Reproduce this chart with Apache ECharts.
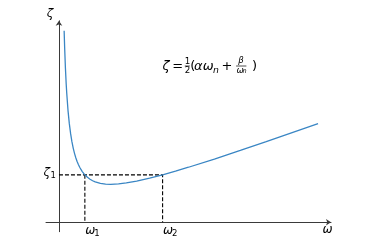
<!DOCTYPE html>
<html><head><meta charset="utf-8">
<script src="https://cdn.jsdelivr.net/npm/echarts@6/dist/echarts.min.js"></script>
<style>html,body{margin:0;padding:0;background:#fff}#c{width:368px;height:250px}</style>
</head><body><div id="c"></div>
<script>
// Curve: (omega, zeta)
const omega = [0.2,0.22,0.25,0.28,0.3,0.35,0.4,0.45,0.5,0.55,0.6,0.65,0.7,0.75,0.8,0.9,1.0,1.1,1.2,1.3,1.4,1.6,1.8,2.0,2.3,2.6,3.0,3.5,4.0,4.5,5,6,7,8,9,10];
const zeta  = [4.04,3.68,3.25,2.913,2.727,2.356,2.08,1.868,1.7,1.565,1.453,1.361,1.283,1.217,1.16,1.069,1.0,0.947,0.907,0.875,0.851,0.82,0.804,0.8,0.808,0.828,0.867,0.929,1.0,1.078,1.16,1.333,1.514,1.7,1.889,2.08];
const omegaMarks = [1, 4];   // omega_1, omega_2
const zetaMark = 1;          // zeta_1
const xRange = [-0.5, 10.5];
const yRange = [-0.2, 4.25];

const chart = echarts.init(document.getElementById('c'), null, {renderer: 'canvas'});
const curve = omega.map((w, i) => [w, zeta[i]]);
const dashA = [[0, zetaMark], [omegaMarks[1], zetaMark], [omegaMarks[1], 0]];
const dashB = [[omegaMarks[0], zetaMark], [omegaMarks[0], 0]];
const axisCommon = {
  axisTick: {show: false}, axisLabel: {show: false}, splitLine: {show: false},
  axisLine: {show: true, onZero: true, symbol: ['none', 'arrow'], symbolSize: [5, 5],
    lineStyle: {color: '#3a3a3a', width: 1}}
};
chart.setOption({
  animation: false,
  backgroundColor: '#fff',
  grid: {left: 46, top: 20.8, width: 285, height: 210.9, containLabel: false},
  xAxis: Object.assign({type: 'value', min: xRange[0], max: xRange[1]}, axisCommon),
  yAxis: Object.assign({type: 'value', min: yRange[0], max: yRange[1]}, axisCommon),
  series: [
    {type: 'line', data: dashA, showSymbol: false, silent: true,
      lineStyle: {color: '#000', width: 1.1, type: [4, 2]}},
    {type: 'line', data: dashB, showSymbol: false, silent: true,
      lineStyle: {color: '#000', width: 1.1, type: [4, 2]}},
    {type: 'line', data: curve, showSymbol: false, smooth: false,
      lineStyle: {color: '#3a86c4', width: 1.3}}
  ]
});

const FF = '"DejaVu Sans"';
function t(text, x, y, size, italic, align) {
  return {type: 'text', x: x, y: y, silent: true,
    style: {text: text, font: (italic ? 'italic ' : '') + size + 'px ' + FF, fill: '#000',
      align: align || 'left', verticalAlign: 'middle'}};
}
function bar(x1, x2, y) {
  return {type: 'line', silent: true, shape: {x1: x1, y1: y, x2: x2, y2: y},
    style: {stroke: '#000', lineWidth: 0.7}};
}
const px = (v) => chart.convertToPixel({gridIndex: 0}, v);
const o1 = px([omegaMarks[0], 0]), o2 = px([omegaMarks[1], 0]), z1 = px([0, zetaMark]);
const yTop = px([0, yRange[1]]), xEnd = px([xRange[1], 0]);

const els = [
  t('ζ', yTop[0] - 9, yTop[1] - 6.5, 12, true, 'center'),
  t('ω', xEnd[0] - 3.5, xEnd[1] + 8, 12, true, 'center'),
  t('ω', o1[0] + 0.5, o1[1] + 9, 12, true),
  t('1', o1[0] + 9.5, o1[1] + 12, 8.5, false),
  t('ω', o2[0] + 0.5, o2[1] + 9, 12, true),
  t('2', o2[0] + 9.5, o2[1] + 12, 8.5, false),
  t('ζ', z1[0] - 15.5, z1[1] - 1.5, 12, true),
  t('1', z1[0] - 8.5, z1[1] + 1, 8.5, false),
  // formula
  t('ζ', 162.5, 66.5, 13, true),
  t('=', 172.3, 66.5, 13, false),
  t('1', 187.4, 61.5, 8.7, false, 'center'),
  bar(184.8, 189.9, 66),
  t('2', 187.4, 70.8, 8.7, false, 'center'),
  t('(', 190.3, 66.5, 13, false),
  t('α', 194.1, 66.5, 13, true),
  t('ω', 202.8, 66.5, 13, true),
  t('n', 212.9, 70.3, 9.3, true),
  t('+', 221.4, 66.5, 13, false),
  t('β', 241, 60.5, 8.7, true, 'center'),
  bar(236.1, 246.4, 66),
  t('ω', 236.6, 70.3, 8.7, true),
  t('n', 242.6, 71.8, 6.5, true),
  t(')', 251.9, 66.5, 13, false)
];
chart.setOption({graphic: {elements: els}});
</script></body></html>
